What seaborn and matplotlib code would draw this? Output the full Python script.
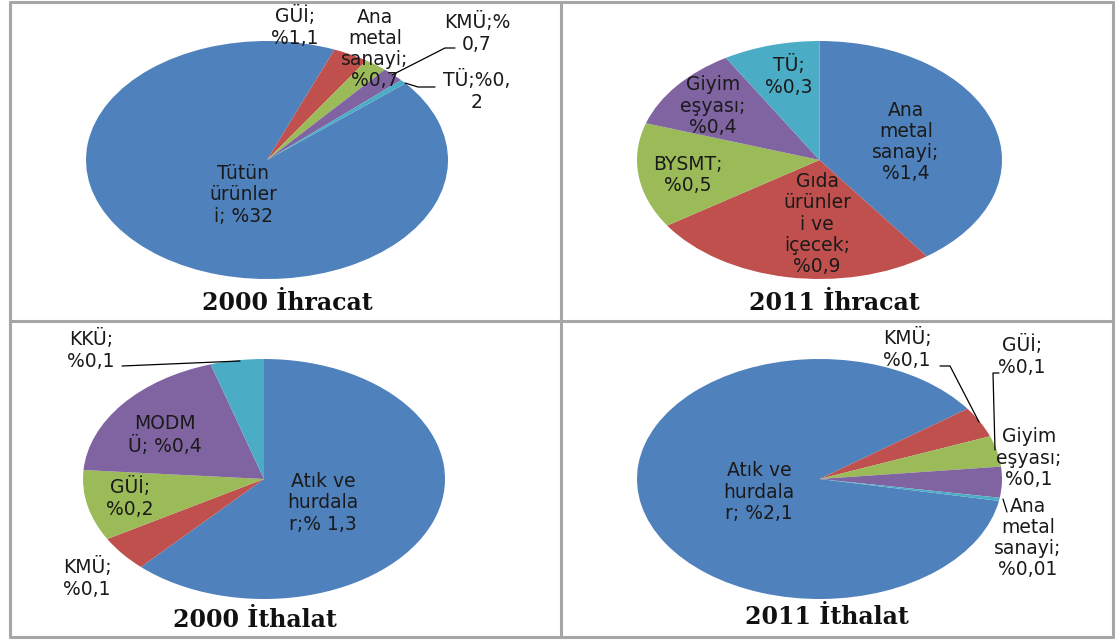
import matplotlib
matplotlib.use("Agg")
import matplotlib.pyplot as plt
from matplotlib.lines import Line2D
import seaborn as sns

W, H = 1116, 641

sns.set_theme(style="white")
plt.rcParams['font.family'] = ['DejaVu Sans']

# Excel 2007 renkleri
renkler = sns.color_palette(["#4F81BD", "#C0504D", "#9BBB59", "#8064A2", "#4BACC6"])

# --- veriler ---
ihr2000_kat = ["Tütün ürünleri", "GÜİ", "Ana metal sanayi", "KMÜ", "TÜ"]
ihr2000_deger = [32, 1.1, 0.7, 0.7, 0.2]
ihr2000_etiket = ["Tütün\nürünler\ni; %32", "GÜİ;\n%1,1", "Ana\nmetal\nsanayi;\n%0,7",
                  "KMÜ;%\n0,7", "TÜ;%0,\n2"]

ihr2011_kat = ["Ana metal sanayi", "Gıda ürünleri ve içecek", "BYSMT", "Giyim eşyası", "TÜ"]
ihr2011_deger = [1.4, 0.9, 0.5, 0.4, 0.3]
ihr2011_etiket = ["Ana\nmetal\nsanayi;\n%1,4", "Gıda\nürünler\ni ve\niçecek;\n%0,9",
                  "BYSMT;\n%0,5", "Giyim\neşyası;\n%0,4", "TÜ;\n%0,3"]

ith2000_kat = ["Atık ve hurdalar", "KMÜ", "GÜİ", "MODMÜ", "KKÜ"]
ith2000_deger = [1.3, 0.1, 0.2, 0.4, 0.1]
ith2000_etiket = ["Atık ve\nhurdala\nr;% 1,3", "KMÜ;\n%0,1", "GÜİ;\n%0,2",
                  "MODM\nÜ; %0,4", "KKÜ;\n%0,1"]

ith2011_kat = ["Atık ve hurdalar", "KMÜ", "GÜİ", "Giyim eşyası", "Ana metal sanayi"]
ith2011_deger = [2.1, 0.1, 0.1, 0.1, 0.01]
ith2011_etiket = ["Atık ve\nhurdala\nr; %2,1", "KMÜ;\n%0,1", "GÜİ;\n%0,1",
                  "Giyim\neşyası;\n%0,1", "Ana\nmetal\nsanayi;\n%0,01"]

basliklar = ["2000 İhracat", "2011 İhracat", "2000 İthalat", "2011 İthalat"]

# --- yerlesim (piksel) ---
paneller = [
    dict(deger=ihr2000_deger, etiket=ihr2000_etiket, merkez=(267, 160), yar=(181, 119),
         baslangic=40.1,
         konum=[(243, 195), (295, 27), (375, 49), (477, 33), (477, 91)],
         baslik=(287, 303),
         cizgi=[[(455, 48), (445, 48), (392, 75)], [(435, 87), (418, 87), (405, 83)]]),
    dict(deger=ihr2011_deger, etiket=ihr2011_etiket, merkez=(819.5, 160), yar=(182.5, 119),
         baslangic=90,
         konum=[(906, 142), (817, 224), (688, 175), (713, 106), (789, 76)],
         baslik=(834, 303), cizgi=[]),
    dict(deger=ith2000_deger, etiket=ith2000_etiket, merkez=(264, 479), yar=(181, 120),
         baslangic=90,
         konum=[(323, 503), (87, 578), (130, 498), (165, 435), (91, 350)],
         baslik=(255, 620),
         cizgi=[[(122, 366), (240, 361)]]),
    dict(deger=ith2011_deger, etiket=ith2011_etiket, merkez=(819.5, 479), yar=(182.5, 120),
         baslangic=-10.5,
         konum=[(759, 492), (907, 349), (1022, 356), (1029, 458), (1028, 538)],
         baslik=(827, 617),
         cizgi=[[(940, 366), (950, 366), (979, 422)],
                [(999, 373), (993, 373), (995, 450)],
                [(1003, 499), (1007, 512)]]),
]

fig = plt.figure(figsize=(W / 100, H / 100), dpi=100)
fig.patch.set_facecolor("white")


def fx(x):
    return x / W


def fy(y):
    return 1 - y / H


pay = 1.01
for p, baslik in zip(paneller, basliklar):
    cx, cy = p['merkez']
    rx, ry = p['yar']
    ax = fig.add_axes([fx(cx - rx * pay), fy(cy + ry * pay), 2 * rx * pay / W, 2 * ry * pay / H])
    ax.pie(p['deger'], colors=renkler, startangle=p['baslangic'], counterclock=False,
           wedgeprops=dict(linewidth=0))
    ax.set_xlim(-pay, pay)
    ax.set_ylim(-pay, pay)
    ax.set_aspect('auto')
    ax.axis('off')

    for s, (x, y) in zip(p['etiket'], p['konum']):
        fig.text(fx(x), fy(y), s, ha='center', va='center', fontsize=13.5,
                 linespacing=1.15, color='#1a1a1a')

    for c in p['cizgi']:
        fig.add_artist(Line2D([fx(x) for x, _ in c], [fy(y) for _, y in c],
                              color='black', lw=0.9))

    bx, by = p['baslik']
    fig.text(fx(bx), fy(by), baslik, ha='center', va='center', fontsize=17,
             fontweight='bold', family=['DejaVu Serif'], color='#111111')

# panel cerceveleri
gri = '#A6A6A6'
for x in [9.5, 560.5, 1113]:
    fig.add_artist(Line2D([fx(x), fx(x)], [fy(2), fy(637)], color=gri, lw=2.2))
for y in [2, 321, 637]:
    fig.add_artist(Line2D([fx(9.5), fx(1113)], [fy(y), fy(y)], color=gri, lw=2.2))

fig.savefig("out.png", dpi=100)
